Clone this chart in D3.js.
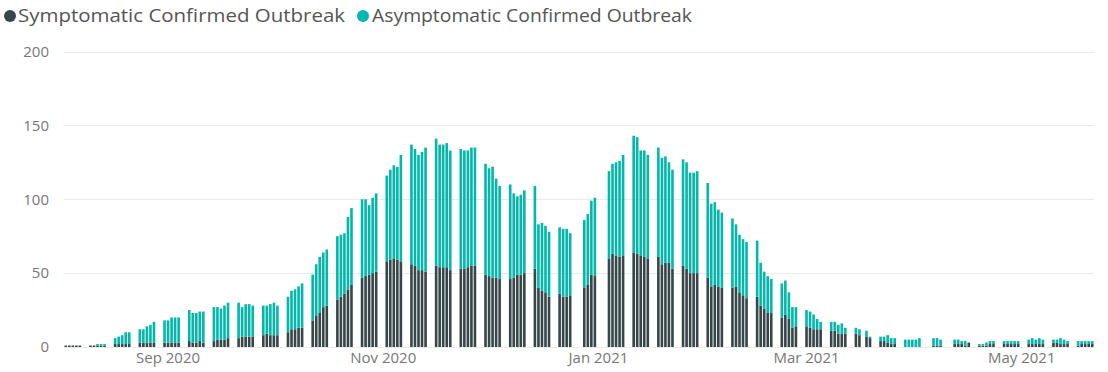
<!DOCTYPE html>
<html>
<head>
<meta charset="utf-8">
<script src="https://cdn.jsdelivr.net/npm/d3@7"></script>
<style>
  html, body { margin: 0; padding: 0; background: #fff; }
  svg { display: block; font-family: "Open Sans", "Noto Sans", sans-serif; }
</style>
</head>
<body>
<svg id="chart" width="1108" height="372"></svg>
<script>
// Daily confirmed outbreak cases, one row per week (Mon..Fri); null = no report that day
const weekStarts = [
  "2020-08-03","2020-08-10","2020-08-17","2020-08-24","2020-08-31","2020-09-07",
  "2020-09-14","2020-09-21","2020-09-28","2020-10-05","2020-10-12","2020-10-19",
  "2020-10-26","2020-11-02","2020-11-09","2020-11-16","2020-11-23","2020-11-30",
  "2020-12-07","2020-12-14","2020-12-21","2020-12-28","2021-01-04","2021-01-11",
  "2021-01-18","2021-01-25","2021-02-01","2021-02-08","2021-02-15","2021-02-22",
  "2021-03-01","2021-03-08","2021-03-15","2021-03-22","2021-03-29","2021-04-05",
  "2021-04-12","2021-04-19","2021-04-26","2021-05-03","2021-05-10","2021-05-17"
];

const symptomatic = [
  [1,1,1,1,1],[1,1,1,1,1],[2,2,2,2,2],[3,3,3,3,3],[3,3,3,3,3],[4,3,3,4,3],
  [4,5,5,5,6],[6,7,7,7,7],[8,9,8,8,8],[10,12,12,13,13],[18,21,23,27,28],[32,34,36,39,42],
  [47,48,49,50,51],[58,59,60,59,58],[56,55,52,52,51],[55,54,54,54,52],[53,53,54,55,55],[49,48,47,47,46],
  [46,47,49,49,50],[53,40,38,37,34],[36,34,34,35,null],[40,42,49,48,null],[60,63,62,61,62],[64,63,62,61,60],
  [61,56,57,57,53],[55,53,50,50,50],[47,41,42,41,40],[40,41,37,35,33],[34,28,26,23,23],[20,22,19,13,14],
  [14,13,12,12,12],[11,11,9,9,9],[9,8,null,7,6],[4,4,3,2,2],[0,0,0,0,0],[null,1,1,1,null],
  [2,2,2,1,3],[1,1,1,2,2],[2,2,2,2,2],[2,2,2,2,2],[3,3,2,2,2],[1,2,2,2,2]
];

const asymptomatic = [
  [0,0,0,0,0],[0,0,1,1,1],[4,5,6,8,8],[9,9,11,12,14],[15,15,17,17,17],[21,20,20,20,21],
  [23,22,21,23,24],[24,20,22,22,21],[20,19,21,22,20],[24,26,27,28,30],[31,35,38,37,38],[43,42,41,49,52],
  [53,52,47,51,53],[58,61,63,63,72],[81,79,78,80,84],[86,83,83,84,81],[81,80,79,80,80],[75,73,75,67,63],
  [64,57,53,54,56],[56,43,46,45,44],[45,46,46,42,null],[46,48,50,53,null],[59,61,63,65,68],[79,79,71,72,70],
  [74,72,72,68,67],[72,72,68,68,69],[64,56,56,52,51],[47,42,39,38,38],[38,29,25,25,23],[23,23,18,14,13],
  [11,11,10,7,5],[6,6,6,7,4],[4,4,null,4,1],[3,3,5,4,4],[5,5,5,5,6],[null,5,5,4,null],
  [3,3,2,3,0],[1,1,2,2,2],[2,2,2,2,2],[3,4,3,4,3],[2,2,4,3,2],[3,2,2,2,2]
];

const seriesNames = ["Symptomatic Confirmed Outbreak", "Asymptomatic Confirmed Outbreak"];
const seriesColors = ["#374649", "#01B8AA"];
const yTicks = [0, 50, 100, 150, 200];
const xTickDates = ["2020-09-01", "2020-11-01", "2021-01-01", "2021-03-01", "2021-05-01"];
const xTickLabels = ["Sep 2020", "Nov 2020", "Jan 2021", "Mar 2021", "May 2021"];

const parse = d3.utcParse("%Y-%m-%d");
const fmtKey = d3.utcFormat("%Y-%m-%d");

// Flatten weekly rows into daily records
const rows = [];
weekStarts.forEach((ws, w) => {
  const start = parse(ws);
  for (let i = 0; i < 5; i++) {
    const s = symptomatic[w][i], a = asymptomatic[w][i];
    if (s === null || a === null) continue;
    rows.push({ date: d3.utcDay.offset(start, i), sym: s, asym: a });
  }
});

// Continuous calendar-day domain so weekends leave gaps
const firstDay = parse(weekStarts[0]);
const lastDay = d3.utcDay.offset(parse(weekStarts[weekStarts.length - 1]), 5);
const allDays = d3.utcDay.range(firstDay, lastDay).map(fmtKey);

const svg = d3.select("#chart");
const plot = { left: 64, right: 1094, top: 51.5, bottom: 347 };

const x = d3.scaleBand().domain(allDays).range([plot.left, plot.right]).paddingInner(0.26).paddingOuter(0.13);
const y = d3.scaleLinear().domain([0, 200]).range([plot.bottom, plot.top]);

// Gridlines
svg.append("g").selectAll("line").data(yTicks).join("line")
  .attr("x1", plot.left).attr("x2", plot.right)
  .attr("y1", d => Math.round(y(d)) + 0.5).attr("y2", d => Math.round(y(d)) + 0.5)
  .attr("stroke", "#eaeaea").attr("stroke-width", 1);

// Y axis labels
const yAxis = d3.axisLeft(y).tickValues(yTicks).tickSize(0).tickPadding(0);
const gy = svg.append("g").attr("transform", `translate(49,0)`).call(yAxis);
gy.select(".domain").remove();
gy.selectAll("text").attr("fill", "#777").style("font-size", "15px")
  .style("font-family", "\"Open Sans\", sans-serif");

// X axis labels
const xAxis = d3.axisBottom(x).tickValues(xTickDates).tickFormat((d, i) => xTickLabels[i]).tickSize(0).tickPadding(0);
const gx = svg.append("g").attr("transform", `translate(0,352)`).call(xAxis);
gx.select(".domain").remove();
gx.selectAll("text").attr("fill", "#777").style("font-size", "15px")
  .style("font-family", "\"Open Sans\", sans-serif");

// Stacked bars
const stack = d3.stack().keys(["sym", "asym"]);
const layers = stack(rows);
svg.append("g").selectAll("g").data(layers).join("g")
  .attr("fill", (d, i) => seriesColors[i])
  .selectAll("rect").data(d => d).join("rect")
    .attr("x", d => x(fmtKey(d.data.date)))
    .attr("width", x.bandwidth())
    .attr("y", d => y(d[1]))
    .attr("height", d => Math.max(0, y(d[0]) - y(d[1])));

// Legend
const legend = svg.append("g").attr("transform", "translate(0,16)");
const legendItems = [
  { cx: 10, tx: 18, len: 327 },
  { cx: 363, tx: 372, len: 320 }
];
legendItems.forEach((it, i) => {
  legend.append("circle").attr("cx", it.cx).attr("cy", 0).attr("r", 6).attr("fill", seriesColors[i]);
  legend.append("text").attr("x", it.tx).attr("y", 0).attr("dy", "0.35em")
    .attr("fill", "#555").style("font-size", "18px")
    .attr("textLength", it.len).attr("lengthAdjust", "spacingAndGlyphs")
    .text(seriesNames[i]);
});
</script>
</body>
</html>
